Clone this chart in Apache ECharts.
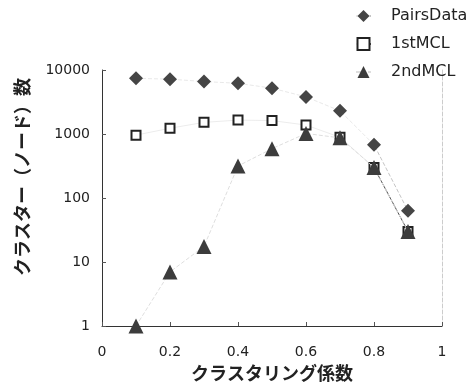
<!DOCTYPE html>
<html lang="ja">
<head>
    <meta charset="UTF-8">
    <title>index</title>
    <script src="https://cdn.jsdelivr.net/npm/echarts@6/dist/echarts.min.js"></script>
    <style>
        html,body{margin:0;padding:0;background:#fff;}
        #chart{width:474px;height:388px;}
    </style>
</head>
<body>
<div id="chart"></div>
<script>
    // clustering coefficient on x
    var xs = [0.1, 0.2, 0.3, 0.4, 0.5, 0.6, 0.7, 0.8, 0.9];
    var pairsData = [7400, 7200, 6600, 6200, 5200, 3800, 2300, 680, 63];
    var firstMCL = [960, 1230, 1520, 1650, 1620, 1380, 890, 300, 30];
    var secondMCL = [1, 7, 17.5, 316, 590, 1020, 870, 300, 30];
    var xTicks = [0, 0.2, 0.4, 0.6, 0.8, 1];
    var yTicks = [1, 10, 100, 1000, 10000];

    function pts(vals) {
        return xs.map(function (x, i) { return [x, vals[i]]; });
    }
    // faint line that turns dark for the last segment
    function fadeLine(light, dark) {
        return {
            type: 'linear', x: 0, y: 0, x2: 1, y2: 0,
            colorStops: [
                {offset: 0, color: light},
                {offset: 0.86, color: light},
                {offset: 0.88, color: dark},
                {offset: 1, color: dark}
            ]
        };
    }

    var latin = '"DejaVu Sans", sans-serif';
    var jp = '"Noto Sans CJK JP", sans-serif';

    var chart = echarts.init(document.getElementById('chart'));
    chart.setOption({
        animation: false,
        backgroundColor: '#fff',
        grid: {left: 102, right: 32, top: 70, bottom: 62},
        legend: {
            orient: 'vertical',
            left: 350, top: 3,
            itemWidth: 15, itemHeight: 15, itemGap: 12,
            textStyle: {fontFamily: latin, fontSize: 16, color: '#222', padding: [0, 0, 0, 15]},
            data: ['PairsData', '1stMCL', '2ndMCL']
        },
        xAxis: [{
            type: 'value', min: 0, max: 1, interval: 0.2,
            name: 'クラスタリング係数', nameLocation: 'middle', nameGap: 38,
            nameTextStyle: {fontFamily: jp, fontSize: 18, fontWeight: 'bold', color: '#222'},
            axisLine: {lineStyle: {color: '#333', width: 1}},
            axisTick: {inside: true, length: 4, lineStyle: {color: '#555'}},
            axisLabel: {
                fontFamily: latin, fontSize: 14, color: '#222', margin: 19,
                formatter: function (v) {
                    return xTicks.indexOf(Math.round(v * 10) / 10) >= 0 ? String(Math.round(v * 10) / 10) : '';
                }
            },
            splitLine: {show: false}
        }],
        yAxis: [{
            type: 'log', logBase: 10, min: 1, max: 10000,
            name: 'クラスター（ノード）数', nameLocation: 'middle', nameGap: 71,
            nameTextStyle: {fontFamily: jp, fontSize: 18, fontWeight: 'bold', color: '#222',
                padding: [0, 0, 0, 42]},
            axisLine: {show: true, lineStyle: {color: '#333', width: 1}},
            axisTick: {inside: true, length: 4, lineStyle: {color: '#555'}},
            axisLabel: {
                fontFamily: latin, fontSize: 14, color: '#222', margin: 12,
                formatter: function (v) {
                    return yTicks.indexOf(Math.round(v)) >= 0 ? String(Math.round(v)) : '';
                }
            },
            splitLine: {show: false}
        }, {
            type: 'log', logBase: 10, min: 1, max: 10000, position: 'right',
            axisLine: {show: true, lineStyle: {color: '#cccccc', type: 'dashed', width: 1}},
            axisTick: {show: false}, axisLabel: {show: false}, splitLine: {show: false}
        }],
        series: [{
            name: 'PairsData', type: 'line',
            data: pts(pairsData),
            symbol: 'diamond', symbolSize: 14,
            itemStyle: {color: '#454545'},
            lineStyle: {width: 1, color: fadeLine('#e8e8e8', '#c4c4c4'), type: 'dashed'},
            z: 3
        }, {
            name: '1stMCL', type: 'line',
            data: pts(firstMCL),
            symbol: 'rect', symbolSize: 9,
            itemStyle: {color: '#fff', borderColor: '#222', borderWidth: 2},
            lineStyle: {width: 1, color: fadeLine('#ececec', '#4a4a4a')},
            z: 4
        }, {
            name: '2ndMCL', type: 'line',
            data: pts(secondMCL),
            symbol: 'triangle', symbolSize: 15,
            itemStyle: {color: '#3c3c3c'},
            lineStyle: {width: 1, color: '#dedede', type: 'dashed'},
            z: 5
        }]
    });
</script>
</body>
</html>
